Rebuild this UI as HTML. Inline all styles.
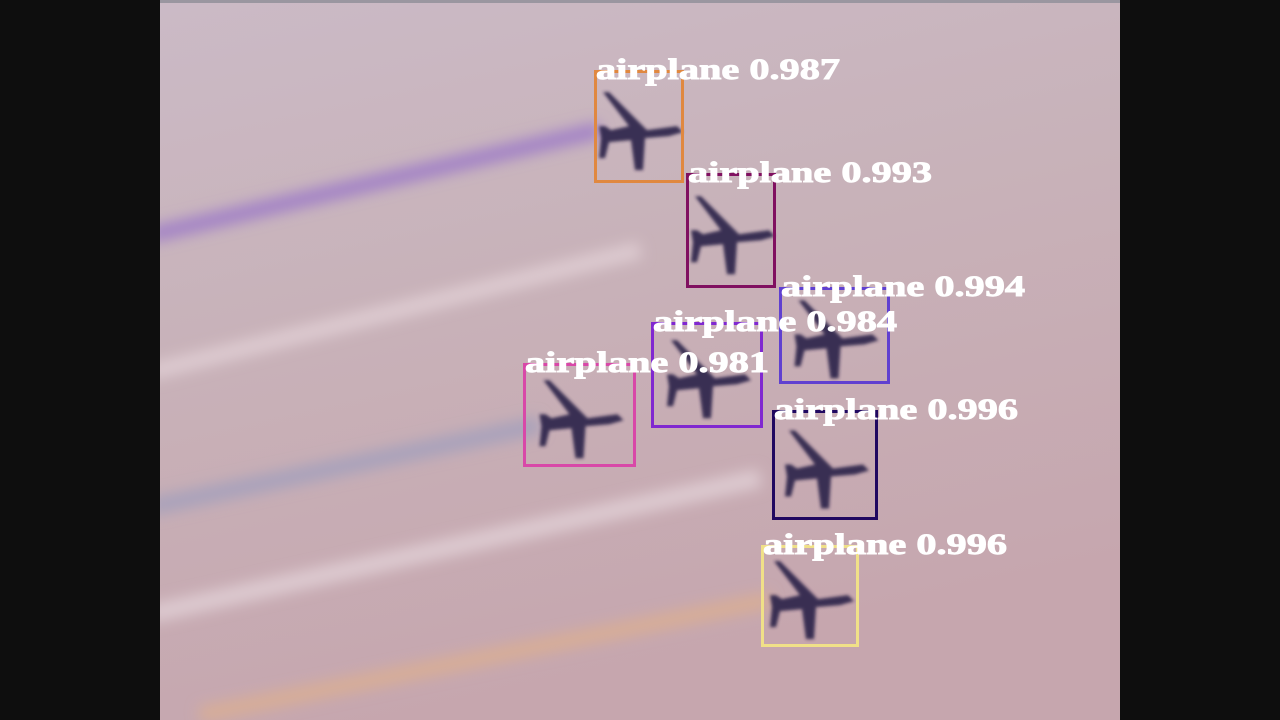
<!DOCTYPE html>
<html><head><meta charset="utf-8"><style>
html,body{margin:0;padding:0;background:#0e0e0e;width:1280px;height:720px;overflow:hidden}
svg{display:block}
</style></head><body>
<svg id="scene" width="1280" height="720" viewBox="0 0 1280 720" xmlns="http://www.w3.org/2000/svg">
<defs>
<linearGradient id="bg" x1="0" y1="0" x2="0.3" y2="1">
<stop offset="0" stop-color="#cbbac6"/><stop offset="0.45" stop-color="#c8b2b9"/><stop offset="1" stop-color="#c6a6ae"/>
</linearGradient>
<filter id="blur8"><feGaussianBlur stdDeviation="7"/></filter>
<filter id="blur2"><feGaussianBlur stdDeviation="1.6"/></filter>
<clipPath id="photo"><rect x="160" y="0" width="960" height="720"/></clipPath>
</defs>
<rect x="0" y="0" width="1280" height="720" fill="#0e0e0e"/>
<rect x="160" y="0" width="960" height="720" fill="url(#bg)"/>
<rect x="160" y="0" width="960" height="3" fill="#9a96a0"/>
<g clip-path="url(#photo)">
<g filter="url(#blur8)">
<path d="M150 235 L600 130" stroke="#9c78c8" stroke-width="16" opacity="0.85"/>
<path d="M150 372 L640 250" stroke="#e4d2d8" stroke-width="16" opacity="0.8"/>
<path d="M150 507 L540 425" stroke="#a4a0bc" stroke-width="18" opacity="0.85"/>
<path d="M150 614 L760 478" stroke="#e2d0d6" stroke-width="18" opacity="0.85"/>
<path d="M200 715 L770 600" stroke="#dcb090" stroke-width="16" opacity="0.8"/>
</g>
</g>
<g id="dets"></g>
</svg>
<script>
const labels = ["airplane","airplane","airplane","airplane","airplane","airplane","airplane"];
const scores = ["0.987","0.993","0.994","0.984","0.981","0.996","0.996"];
const boxX = [594,686,779,651,523,772,761];
const boxY = [70,173,287,322,363,410,545];
const boxW = [90,90,111,112,113,106,98];
const boxH = [113,115,97,106,104,110,102];
const colors = ["#e08840","#801060","#6040d0","#8028d0","#d848a8","#200860","#f0e088"];
const NS = "http://www.w3.org/2000/svg";
const g = document.getElementById('dets');
const planes = document.createElementNS(NS,'g');


g.appendChild(planes);
const boxes = document.createElementNS(NS,'g');
g.appendChild(boxes);
for (let i=0;i<labels.length;i++){
  const cx = boxX[i]+boxW[i]*0.5, cy = boxY[i]+boxH[i]*0.55;
  const p = document.createElementNS(NS,'path');
  
  
  p.setAttribute('d','M-30 -40 L8 -2 L38 -6 L44 0 L30 4 L6 6 L4 38 L-4 38 L-8 8 L-30 10 L-34 26 L-40 26 L-38 6 L-40 -6 L-34 -6 L-28 -2 L-10 -6 L-36 -40 Z');
  p.setAttribute('fill','#2c2448');
  p.setAttribute('opacity','0.9');
  p.setAttribute('filter','url(#blur2)');
  p.setAttribute('transform','translate('+cx+','+cy+')');
  planes.appendChild(p);
  const r = document.createElementNS(NS,'rect');
  
  
  r.setAttribute('x',boxX[i]+1.5); r.setAttribute('y',boxY[i]+1.5);
  r.setAttribute('width',boxW[i]-3); r.setAttribute('height',boxH[i]-3);
  r.setAttribute('fill','none'); r.setAttribute('stroke',colors[i]); r.setAttribute('stroke-width','3');
  boxes.appendChild(r);
}
for (let i=0;i<labels.length;i++){
  const t = document.createElementNS(NS,'text');
  
  
  t.setAttribute('x',boxX[i]+2); t.setAttribute('y',boxY[i]+9);
  t.setAttribute('fill','#ffffff');
  t.setAttribute('stroke','#ffffff');
  t.setAttribute('stroke-width','0.9');
  t.setAttribute('font-family','"Liberation Serif", serif');
  t.setAttribute('font-weight','bold');
  t.setAttribute('font-size','30');
  t.setAttribute('textLength','244');
  t.setAttribute('lengthAdjust','spacingAndGlyphs');
  t.textContent = labels[i]+' '+scores[i];
  g.appendChild(t);
}
</script>
</body></html>
